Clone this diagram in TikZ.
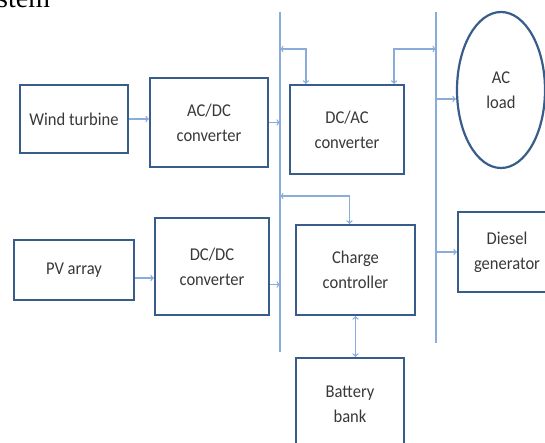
\documentclass[tikz,border=0pt]{standalone}
\usepackage{fontspec}
\setmainfont{Carlito}[FakeStretch=0.92]
\newfontfamily\captionfont{Liberation Serif}
\usetikzlibrary{shapes.geometric}
\definecolor{boxblue}{RGB}{56, 93, 138}
\definecolor{linkblue}{RGB}{138, 172, 218}
\definecolor{textgray}{RGB}{56, 56, 56}

\begin{document}
\begin{tikzpicture}[x=1pt,y=-1pt,
    block/.style={draw=boxblue,line width=2.2pt,text=textgray,align=center,inner sep=0pt,font=\fontsize{18}{25}\selectfont},
    load/.style={block,ellipse},
    link/.style={linkblue,line width=1.3pt},
    bus/.style={linkblue,line width=1.6pt}]
    \useasboundingbox (0,0) rectangle (545,443);
    \clip (0,0) rectangle (545,443);
    \node[anchor=base west,inner sep=0pt,font=\captionfont\fontsize{28}{28}\selectfont] (caption) at (-3,8) {stem};
    \node[block,minimum width=108pt,minimum height=68pt] (wind) at (74,119) {Wind turbine};
    \node[block,minimum width=118pt,minimum height=89pt] (acdc) at (209,122.5) {AC/DC\\converter};
    \node[block,minimum width=114pt,minimum height=89pt] (dcac) at (347,129.5) {DC/AC\\converter};
    \node[load,minimum width=88pt,minimum height=156pt] (acload) at (501,90) {AC\\load};
    \node[block,minimum width=120pt,minimum height=60pt] (pv) at (74,270) {PV array};
    \node[block,minimum width=114pt,minimum height=97pt] (dcdc) at (212,266.5) {DC/DC\\converter};
    \node[block,minimum width=119pt,minimum height=90pt] (charge) at (355.5,270) {Charge\\controller};
    \node[block,minimum width=98pt,minimum height=80pt] (diesel) at (507,252) {Diesel\\generator};
    \node[block,minimum width=108pt,minimum height=92pt] (battery) at (350,404) {Battery\\bank};
    \coordinate (b1n) at (280,12);
    \coordinate (b1s) at (280,352);
    \coordinate (b2n) at (436,12);
    \coordinate (b2s) at (436,343);
    \draw[bus] (b1n) -- (b1s);
    \draw[bus] (b2n) -- (b2s);
    \draw[link,->] (wind.east) -- (wind.east -| acdc.west);
    \draw[link,->] (acdc.east) -- (acdc.east -| b1n);
    \draw[link,->] ([yshift=-8pt]pv.east) -- ([yshift=-8pt]pv.east -| dcdc.west);
    \draw[link,->] ([yshift=-18pt]dcdc.east) -- ([yshift=-18pt]dcdc.east -| b1n);
    \draw[link,<->] (b1n |- 0,49) -| ([xshift=17pt]dcac.north west);
    \draw[link,<->] ([xshift=-11pt]dcac.north east) |- (b2n |- 0,49);
    \draw[link,->] (b2n |- 0,99) -- (acload.west |- 0,99);
    \draw[link,<->] (b1n |- 0,196) -| ([xshift=-6pt]charge.north);
    \draw[link,<->] (charge.south) -- (charge.south |- battery.north);
    \draw[link,->] (b2n |- diesel.west) -- (diesel.west);
\end{tikzpicture}
\end{document}
